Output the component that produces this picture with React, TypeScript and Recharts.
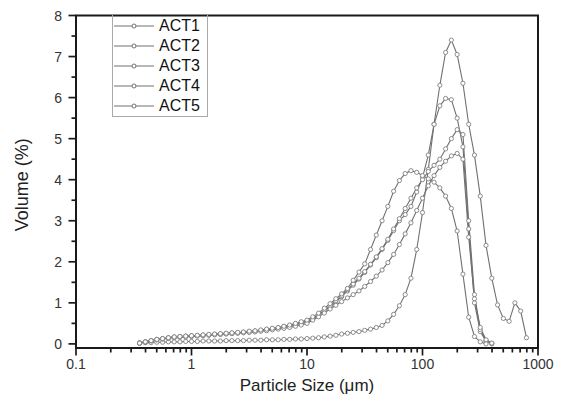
import React from 'react';
import { LineChart, Line, XAxis, YAxis, Legend, ReferenceArea } from 'recharts';

// Particle size classes (µm)
const SIZES = [
  0.355, 0.398, 0.447, 0.501, 0.562, 0.631, 0.708, 0.794, 0.891, 1.0,
  1.122, 1.259, 1.413, 1.585, 1.778, 1.995, 2.239, 2.512, 2.818, 3.162,
  3.548, 3.981, 4.467, 5.012, 5.623, 6.31, 7.079, 7.943, 8.913, 10.0,
  11.22, 12.59, 14.13, 15.85, 17.78, 19.95, 22.39, 25.12, 28.18, 31.62,
  35.48, 39.81, 44.67, 50.12, 56.23, 63.1, 70.79, 79.43, 89.13, 100,
  112.2, 125.9, 141.3, 158.5, 177.8, 199.5, 223.9, 251.2, 281.8, 316.2,
  354.8, 398.1, 446.7, 501.2, 562.3, 631, 707.9, 794.3,
];

const ACT1 = [
  0.02, 0.03, 0.03, 0.04, 0.04, 0.05, 0.05, 0.05, 0.06, 0.06,
  0.06, 0.07, 0.07, 0.07, 0.07, 0.08, 0.08, 0.08, 0.08, 0.09,
  0.09, 0.09, 0.1, 0.1, 0.1, 0.11, 0.11, 0.12, 0.12, 0.13,
  0.14, 0.15, 0.17, 0.19, 0.21, 0.24, 0.26, 0.28, 0.3, 0.33,
  0.36, 0.4, 0.45, 0.56, 0.72, 0.93, 1.2, 1.6, 2.3, 3.2,
  4.25, 5.35, 6.3, 7.1, 7.4, 7.05, 6.35, 5.35, 4.6, 3.6,
  2.4, 1.6, 0.95, 0.62, 0.55, 1.0, 0.8, 0.15,
];

const ACT2 = [
  0.02, 0.05, 0.08, 0.11, 0.13, 0.15, 0.17, 0.18, 0.19, 0.2,
  0.2, 0.21, 0.22, 0.23, 0.24, 0.25, 0.26, 0.27, 0.28, 0.29,
  0.31, 0.32, 0.34, 0.36, 0.38, 0.4, 0.43, 0.46, 0.5, 0.54,
  0.6, 0.7, 0.8, 0.9, 1.02, 1.15, 1.29, 1.43, 1.58, 1.74,
  1.92, 2.1, 2.3, 2.52, 2.76, 3.0, 3.15, 3.35, 3.7, 4.05,
  4.6, 5.35, 5.8, 5.98, 5.95, 5.5, 4.8, 2.8, 1.0, 0.3,
  0.06, 0.0,
];

const ACT3 = [
  0.02, 0.05, 0.08, 0.1, 0.12, 0.14, 0.16, 0.17, 0.18, 0.19,
  0.2, 0.21, 0.22, 0.23, 0.24, 0.25, 0.26, 0.27, 0.28, 0.3,
  0.31, 0.33, 0.35, 0.37, 0.39, 0.42, 0.45, 0.48, 0.52, 0.56,
  0.62, 0.72, 0.82, 0.93, 1.05, 1.18, 1.32, 1.46, 1.6, 1.76,
  1.94, 2.12, 2.32, 2.55, 2.8, 3.05, 3.3, 3.55, 3.8, 4.0,
  4.2, 4.35, 4.5, 4.75, 5.0, 5.22, 5.1, 3.0, 1.2, 0.35,
  0.08, 0.01,
];

const ACT4 = [
  0.02, 0.04, 0.07, 0.1, 0.12, 0.14, 0.15, 0.16, 0.17, 0.18,
  0.19, 0.2, 0.21, 0.22, 0.23, 0.24, 0.25, 0.26, 0.27, 0.28,
  0.29, 0.31, 0.32, 0.34, 0.36, 0.38, 0.4, 0.43, 0.46, 0.5,
  0.58, 0.66, 0.75, 0.85, 0.94, 1.03, 1.12, 1.2, 1.29, 1.4,
  1.52, 1.65, 1.8, 1.98, 2.18, 2.42, 2.68, 2.95, 3.25, 3.55,
  3.85, 4.1, 4.3, 4.45, 4.58, 4.64, 4.5, 2.6, 1.1, 0.4,
  0.1, 0.02,
];

const ACT5 = [
  0.02, 0.05, 0.08, 0.11, 0.13, 0.15, 0.17, 0.18, 0.19, 0.2,
  0.21, 0.22, 0.23, 0.24, 0.25, 0.26, 0.27, 0.28, 0.29, 0.31,
  0.32, 0.34, 0.36, 0.38, 0.4, 0.43, 0.46, 0.5, 0.54, 0.58,
  0.66, 0.75, 0.87, 0.98, 1.1, 1.22, 1.35, 1.55, 1.75, 1.95,
  2.3, 2.65, 3.0, 3.35, 3.72, 3.98, 4.15, 4.22, 4.18, 4.1,
  4.02, 3.94, 3.8, 3.6, 3.3, 2.75, 1.7, 0.65, 0.18, 0.05,
  0.0,
];

const SERIES_NAMES = ['ACT1', 'ACT2', 'ACT3', 'ACT4', 'ACT5'];
const SERIES_VALUES = [ACT1, ACT2, ACT3, ACT4, ACT5];

const X_TICKS = [
  0.1, 0.2, 0.3, 0.4, 0.5, 0.6, 0.7, 0.8, 0.9,
  1, 2, 3, 4, 5, 6, 7, 8, 9,
  10, 20, 30, 40, 50, 60, 70, 80, 90,
  100, 200, 300, 400, 500, 600, 700, 800, 900, 1000,
];
const X_MAJOR = [0.1, 1, 10, 100, 1000];
const Y_TICKS = [0, 0.5, 1, 1.5, 2, 2.5, 3, 3.5, 4, 4.5, 5, 5.5, 6, 6.5, 7, 7.5, 8];
const X_DOMAIN = [0.1, 1000];
const Y_DOMAIN = [-0.1, 8];

const FONT = '"Liberation Sans", Arial, Helvetica, sans-serif';
const AXIS = '#1a1a1a';
const LINE = '#707070';

const build = (vals: number[]) => vals.map((v, i) => ({ x: SIZES[i], y: v }));

const XTick = (props: any) => {
  const { x, y, payload } = props;
  const v = payload.value as number;
  const major = X_MAJOR.some((m) => Math.abs(m - v) / m < 1e-6);
  return (
    <g>
      <line x1={x} x2={x} y1={y} y2={y + (major ? 7.5 : 4.5)} stroke={AXIS} strokeWidth={1.7} />
      {major && (
        <text x={x} y={y + 21} textAnchor="middle" fontSize={14} fill="#333" fontFamily={FONT}>
          {String(v)}
        </text>
      )}
    </g>
  );
};

const YTick = (props: any) => {
  const { x, y, payload } = props;
  const v = payload.value as number;
  const major = Number.isInteger(v);
  return (
    <g>
      <line x1={x} x2={x - (major ? 7.5 : 4.5)} y1={y} y2={y} stroke={AXIS} strokeWidth={1.7} />
      {major && (
        <text x={x - 14} y={y + 5} textAnchor="end" fontSize={14} fill="#333" fontFamily={FONT}>
          {String(v)}
        </text>
      )}
    </g>
  );
};

const LegendBox = (props: any) => {
  const payload = props.payload || [];
  return (
    <div
      style={{
        border: '1px solid #aaa',
        borderTop: 'none',
        width: 94,
        height: 100,
        paddingTop: 1,
        boxSizing: 'content-box',
        background: 'transparent',
        fontFamily: FONT,
      }}
    >
      {payload.map((p: any, i: number) => (
        <div key={i} style={{ height: 20, display: 'flex', alignItems: 'center' }}>
          <svg width={42} height={20} style={{ display: 'block' }}>
            <line x1={1} x2={41} y1={10} y2={10} stroke={LINE} strokeWidth={1.2} />
            <circle cx={21} cy={10} r={2} fill="#fff" stroke={LINE} strokeWidth={1} />
          </svg>
          <span style={{ fontSize: 16, marginLeft: 4, color: '#111', lineHeight: '20px' }}>{p.value}</span>
        </div>
      ))}
    </div>
  );
};

export default function App() {
  return (
    <LineChart width={556} height={396} margin={{ top: 7.5, right: 26, bottom: 6, left: 8 }}>
      <XAxis
        dataKey="x"
        type="number"
        scale="log"
        domain={X_DOMAIN}
        allowDataOverflow
        ticks={X_TICKS}
        interval={0}
        tick={<XTick />}
        tickLine={false}
        tickSize={0}
        tickMargin={0}
        height={50}
        axisLine={{ stroke: AXIS, strokeWidth: 2 }}
        label={{
          content: (p: any) => {
            const vb = p.viewBox || { x: 68, y: 340, width: 462 };
            return (
              <text x={vb.x + vb.width / 2} y={vb.y + 43} textAnchor="middle" fontSize={17} fill="#222" fontFamily={FONT}>
                Particle Size (μm)
              </text>
            );
          },
        }}
      />
      <YAxis
        type="number"
        domain={Y_DOMAIN}
        allowDataOverflow
        ticks={Y_TICKS}
        interval={0}
        tick={<YTick />}
        tickLine={false}
        tickSize={0}
        tickMargin={0}
        width={60}
        axisLine={{ stroke: AXIS, strokeWidth: 2 }}
        label={{
          content: (p: any) => {
            const vb = p.viewBox || { x: 8, y: 7.5, height: 332.5 };
            const cx = vb.x + 12;
            const cy = vb.y + vb.height / 2 + 3;
            return (
              <text
                x={cx}
                y={cy}
                transform={`rotate(-90 ${cx} ${cy})`}
                textAnchor="middle"
                fontSize={18}
                fill="#222"
                fontFamily={FONT}
              >
                Volume (%)
              </text>
            );
          },
        }}
      />
      <ReferenceArea
        x1={X_DOMAIN[0]}
        x2={X_DOMAIN[1]}
        y1={Y_DOMAIN[0]}
        y2={Y_DOMAIN[1]}
        fill="none"
        fillOpacity={0}
        stroke={AXIS}
        strokeWidth={2}
        ifOverflow="visible"
      />
      <Legend
        layout="vertical"
        align="center"
        verticalAlign="middle"
        width={96}
        content={<LegendBox />}
        wrapperStyle={{ left: 104, top: 7, width: 96, height: 101 }}
      />
      {SERIES_VALUES.map((vals, i) => (
        <Line
          key={SERIES_NAMES[i]}
          name={SERIES_NAMES[i]}
          data={build(vals)}
          dataKey="y"
          type="linear"
          stroke={LINE}
          strokeWidth={1.1}
          dot={{ r: 2.1, fill: '#fff', stroke: '#808080', strokeWidth: 0.9 }}
          activeDot={false}
          isAnimationActive={false}
        />
      ))}
    </LineChart>
  );
}
